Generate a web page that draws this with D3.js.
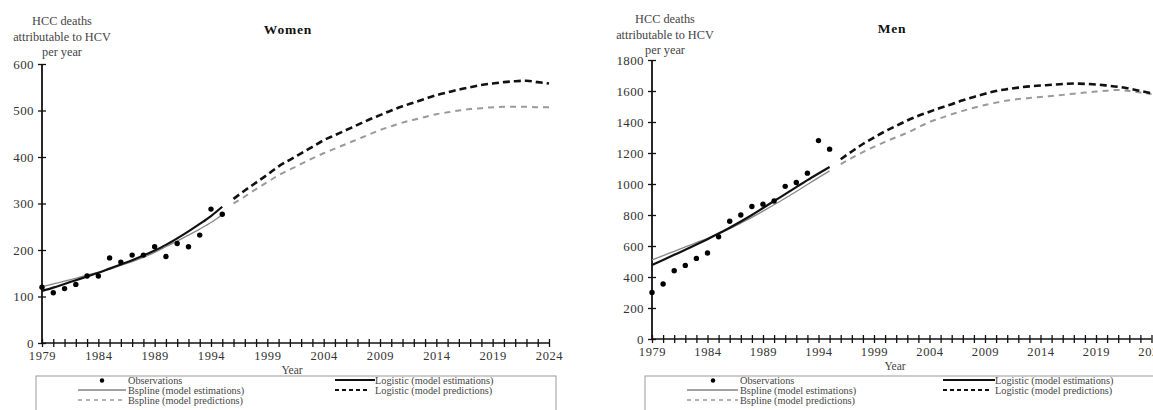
<!DOCTYPE html>
<html><head><meta charset="utf-8">
<script src="https://cdn.jsdelivr.net/npm/d3@7"></script>
<style>body{margin:0;background:#fff}svg{display:block}text{font-family:"Liberation Serif","DejaVu Serif",serif}</style>
</head><body><svg id="c" width="1153" height="410"></svg>
<script>
// ---- data ----
const obsYears = d3.range(1979, 1996);
const estYears = d3.range(1979, 1996);
const predYears = d3.range(1996, 2025);
const xTickLabels = [1979, 1984, 1989, 1994, 1999, 2004, 2009, 2014, 2019, 2024];

const womenObs = [120,108,117,126,144,144,183,174,189,189,207,186,214,207,232,288,277];
const womenLogEst = [112,119,127,135,143,151,160,169,178,188,199,211,225,240,256,273,293];
const womenBspEst = [121,127,133,139,146,152,159,167,175,184,195,207,219,232,245,259,276];
const womenLogPred = [310,328,345,362,380,394,408,422,436,447,458,469,480,490,500,509,517,525,533,539,545,550,555,558,561,563,564,561,558];
const womenBspPred = [300,315,331,346,361,373,385,397,408,418,428,438,448,458,466,474,480,486,492,496,500,503,505,507,508,508,508,507,507];
const womenYTicks = [0,100,200,300,400,500,600];

const menObs = [300,355,440,475,520,555,660,760,800,855,870,890,985,1010,1070,1280,1225];
const menLogEst = [478,510,543,576,610,644,680,718,758,800,845,890,935,980,1025,1068,1110];
const menBspEst = [510,538,566,594,622,650,680,712,748,785,825,866,908,952,997,1041,1085];
const menLogPred = [1160,1210,1258,1300,1340,1375,1410,1440,1466,1492,1515,1540,1562,1582,1600,1612,1622,1630,1635,1640,1645,1648,1646,1642,1635,1627,1615,1600,1585];
const menBspPred = [1128,1168,1206,1240,1272,1302,1330,1366,1400,1425,1450,1472,1492,1510,1525,1538,1548,1555,1561,1568,1575,1583,1590,1596,1602,1607,1600,1590,1580];
const menYTicks = [0,200,400,600,800,1000,1200,1400,1600,1800];

const legendItems = ["Observations","Bspline (model estimations)","Bspline (model predictions)","Logistic (model estimations)","Logistic (model predictions)"];

const svg = d3.select("#c");

function panel(o) {
  const g = svg.append("g");
  const x = d3.scaleLinear().domain([1979, 2024]).range([o.x0, o.x1]);
  const y = d3.scaleLinear().domain([0, o.yMax]).range([o.yb, o.yt]);
  const line = d3.line().x(d => x(d[0])).y(d => y(d[1])).curve(d3.curveMonotoneX);

  // axes
  const yAx = g.append("g").attr("transform", `translate(${o.x0},0)`)
    .call(d3.axisLeft(y).tickValues(o.yTicks).tickSize(4).tickPadding(4).tickFormat(d3.format("d")));
  yAx.selectAll(".tick line").attr("x2", -4).attr("x1", 4).attr("stroke", "#111").attr("stroke-width", 1.3);
  yAx.select(".domain").attr("stroke", "#111").attr("stroke-width", 1.8).attr("d", `M0,${o.yb}V${o.yt}`);
  yAx.selectAll("text").attr("font-size", 13).attr("fill", "#333").attr("x", -8).attr("letter-spacing", 0.4);

  const xAx = g.append("g").attr("transform", `translate(0,${o.yb})`)
    .call(d3.axisBottom(x).tickValues(d3.range(1979, 2025)).tickSize(4).tickFormat(d => xTickLabels.includes(d) ? d : ""));
  xAx.selectAll(".tick line").attr("y1", -4).attr("y2", 4).attr("stroke", "#111").attr("stroke-width", 1.3);
  xAx.select(".domain").attr("stroke", "#111").attr("stroke-width", 1.6).attr("d", `M${o.x0},0H${o.x1}`);
  xAx.selectAll("text").attr("font-size", 12.5).attr("fill", "#333").attr("y", 8).attr("letter-spacing", 0.6);

  // titles
  g.append("text").attr("x", o.titleX).attr("y", o.titleY).attr("text-anchor", "middle")
    .attr("font-weight", "bold").attr("font-size", 13.5).attr("fill", "#111").attr("letter-spacing", 0.8).text(o.title);
  ["HCC deaths", "attributable to HCV", "per year"].forEach((t, i) =>
    g.append("text").attr("x", o.ytX).attr("y", o.ytY + i * 15.5).attr("text-anchor", "middle")
      .attr("font-size", 12.3).attr("fill", "#444").text(t));
  g.append("text").attr("x", o.yearX).attr("y", o.yearY).attr("text-anchor", "middle")
    .attr("font-size", 11.5).attr("fill", "#444").text("Year");

  // series
  const z = (yrs, vals) => yrs.map((yr, i) => [yr, vals[i]]);
  g.append("path").attr("d", line(z(predYears, o.bspPred))).attr("fill", "none")
    .attr("stroke", "#9a9a9a").attr("stroke-width", 2).attr("stroke-dasharray", "6,5");
  g.append("path").attr("d", line(z(predYears, o.logPred))).attr("fill", "none")
    .attr("stroke", "#111").attr("stroke-width", 2.6).attr("stroke-dasharray", "7,4");
  g.append("path").attr("d", line(z(estYears, o.bspEst))).attr("fill", "none")
    .attr("stroke", "#888").attr("stroke-width", 1.3);
  g.append("path").attr("d", line(z(estYears, o.logEst))).attr("fill", "none")
    .attr("stroke", "#111").attr("stroke-width", 2.2);
  g.selectAll(".dot").data(z(obsYears, o.obs)).join("circle")
    .attr("cx", d => x(d[0])).attr("cy", d => y(d[1])).attr("r", 2.7).attr("fill", "#000");

  // legend
  const L = g.append("g").attr("transform", `translate(${o.lx},${o.ly})`);
  L.append("rect").attr("x", 0).attr("y", 0).attr("width", o.lw).attr("height", 45)
    .attr("fill", "none").attr("stroke", "#999").attr("stroke-width", 1);
  const fs = 10.3;
  L.append("circle").attr("cx", o.lDot).attr("cy", 4.5).attr("r", 2.2).attr("fill", "#000");
  L.append("text").attr("x", o.lTxt).attr("y", 8).attr("font-size", fs).attr("fill", "#444").text(legendItems[0]);
  L.append("line").attr("x1", o.lL0).attr("x2", o.lTxt - 2).attr("y1", 14).attr("y2", 14).attr("stroke", "#444").attr("stroke-width", 1);
  L.append("text").attr("x", o.lTxt).attr("y", 18).attr("font-size", fs).attr("fill", "#444").text(legendItems[1]);
  L.append("line").attr("x1", o.lL0).attr("x2", o.lTxt - 2).attr("y1", 24).attr("y2", 24).attr("stroke", "#999").attr("stroke-width", 1.3).attr("stroke-dasharray", "4,4");
  L.append("text").attr("x", o.lTxt).attr("y", 28).attr("font-size", fs).attr("fill", "#444").text(legendItems[2]);
  L.append("line").attr("x1", o.rL0).attr("x2", o.rTxt).attr("y1", 4).attr("y2", 4).attr("stroke", "#111").attr("stroke-width", 2);
  L.append("text").attr("x", o.rTxt).attr("y", 8).attr("font-size", fs).attr("fill", "#444").text(legendItems[3]);
  L.append("line").attr("x1", o.rL0).attr("x2", o.rTxt - 5).attr("y1", 14).attr("y2", 14).attr("stroke", "#111").attr("stroke-width", 1.8).attr("stroke-dasharray", "4,3");
  L.append("text").attr("x", o.rTxt).attr("y", 18).attr("font-size", fs).attr("fill", "#444").text(legendItems[4]);
}

panel({
  x0: 42, x1: 549, yb: 343, yt: 64, yMax: 600, yTicks: womenYTicks,
  obs: womenObs, logEst: womenLogEst, bspEst: womenBspEst, logPred: womenLogPred, bspPred: womenBspPred,
  title: "Women", titleX: 288, titleY: 34, ytX: 62, ytY: 25, yearX: 292, yearY: 374,
  lx: 36, ly: 376, lw: 520, lDot: 66, lTxt: 92, lL0: 42, rL0: 299, rTxt: 339
});
panel({
  x0: 652, x1: 1151.5, yb: 339, yt: 60, yMax: 1800, yTicks: menYTicks,
  obs: menObs, logEst: menLogEst, bspEst: menBspEst, logPred: menLogPred, bspPred: menBspPred,
  title: "Men", titleX: 892, titleY: 33, ytX: 665, ytY: 23, yearX: 895, yearY: 370,
  lx: 645, ly: 376, lw: 520, lDot: 68, lTxt: 95, lL0: 42, rL0: 298, rTxt: 350
});
</script></body></html>
